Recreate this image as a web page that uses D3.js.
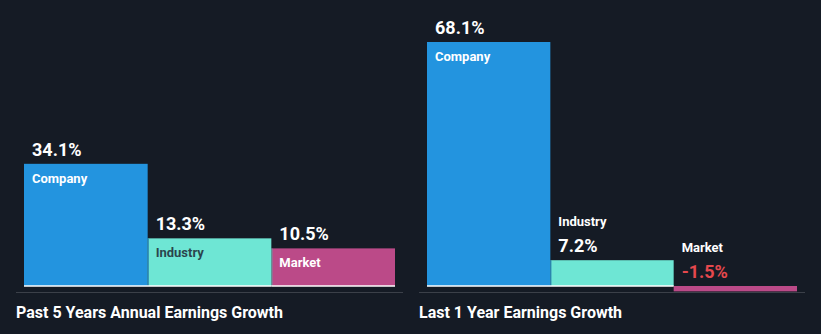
<!DOCTYPE html>
<html>
<head>
<meta charset="utf-8">
<script src="https://cdn.jsdelivr.net/npm/d3@7"></script>
<style>
  html, body { margin: 0; padding: 0; background: #151b25; }
  svg { display: block; }
  text { font-family: Roboto, "Noto Sans", sans-serif; }
</style>
</head>
<body>
<svg id="chart" width="821" height="334"></svg>
<script>
const categories = ["Company", "Industry", "Market"];
const colors = ["#2394df", "#6ee6d4", "#bb4a88"];
const strokeColors = ["#1a6fae", "#4fb3a4", "#8f3868"];
const panelTitles = ["Past 5 Years Annual Earnings Growth", "Last 1 Year Earnings Growth"];
const past5Years = [34.1, 13.3, 10.5];
const last1Year = [68.1, 7.2, -1.5];
const valueLabels5 = ["34.1%", "13.3%", "10.5%"];
const valueLabels1 = ["68.1%", "7.2%", "-1.5%"];

const svg = d3.select("#chart");
const W = 821, H = 334;
svg.append("rect").attr("width", W).attr("height", H).attr("fill", "#151b25");

const baseY = 286;
// shared vertical scale: 68.1% -> 244px
const y = d3.scaleLinear().domain([0, 68.1]).range([baseY, 42]);

const panels = [
  { values: past5Years, labels: valueLabels5, title: panelTitles[0], x0: 24, x1: 395, sepX0: 16, sepX1: 403, titleX: 16 },
  { values: last1Year, labels: valueLabels1, title: panelTitles[1], x0: 427, x1: 797, sepX0: 419, sepX1: 805, titleX: 419 }
];

panels.forEach(p => {
  const g = svg.append("g");
  const x = d3.scaleBand().domain(categories).range([p.x0, p.x1]).padding(0);
  const data = categories.map((c, i) => ({ c, v: p.values[i], label: p.labels[i], i }));

  // bars
  g.selectAll("rect.bar").data(data).enter().append("rect")
    .attr("class", "bar")
    .attr("x", d => x(d.c))
    .attr("width", x.bandwidth())
    .attr("y", d => Math.min(y(d.v), y(0)))
    .attr("height", d => Math.abs(y(d.v) - y(0)))
    .attr("fill", d => colors[d.i]);

  // thin darker edges between bars
  g.selectAll("line.edge").data(data.filter(d => d.i > 0 && d.v > 0)).enter().append("line")
    .attr("x1", d => x(d.c) + 0.5).attr("x2", d => x(d.c) + 0.5)
    .attr("y1", d => Math.max(y(d.v), y(data[d.i - 1].v))).attr("y2", y(0))
    .attr("stroke", d => strokeColors[d.i - 1]).attr("stroke-width", 1);

  // baseline (white)
  g.append("line")
    .attr("x1", p.x0).attr("x2", x("Market"))
    .attr("y1", baseY).attr("y2", baseY)
    .attr("stroke", "#ffffff").attr("stroke-width", 1.5);
  if (p.values[2] >= 0) {
    g.append("line")
      .attr("x1", x("Market")).attr("x2", p.x1)
      .attr("y1", baseY).attr("y2", baseY)
      .attr("stroke", "#ffffff").attr("stroke-width", 1.5);
  }

  // separator
  g.append("line")
    .attr("x1", p.sepX0).attr("x2", p.sepX1)
    .attr("y1", 292.5).attr("y2", 292.5)
    .attr("stroke", "#3b4049").attr("stroke-width", 1);

  // labels
  data.forEach(d => {
    const top = Math.min(y(d.v), y(0));
    const h = Math.abs(y(d.v) - y(0));
    const lx = x(d.c) + 8;
    const valColor = d.v < 0 ? "#e5484d" : "#ffffff";
    if (h > 30) {
      g.append("text").attr("x", lx).attr("y", top - 8)
        .attr("fill", valColor).attr("font-size", 18).attr("font-weight", 700)
        .text(d.label);
      g.append("text").attr("x", lx).attr("y", top + 19)
        .attr("fill", d.i === 1 ? "#1f2a36" : "#ffffff")
        .attr("font-size", 13).attr("font-weight", 700)
        .attr("opacity", d.i === 1 ? 0.85 : 1)
        .text(d.c);
    } else {
      g.append("text").attr("x", lx).attr("y", top - 8)
        .attr("fill", valColor).attr("font-size", 18).attr("font-weight", 700)
        .text(d.label);
      g.append("text").attr("x", lx).attr("y", top - 34)
        .attr("fill", "#ffffff").attr("font-size", 13).attr("font-weight", 700)
        .text(d.c);
    }
  });

  // panel title
  g.append("text").attr("x", p.titleX).attr("y", 318)
    .attr("fill", "#ffffff").attr("font-size", 16).attr("font-weight", 700)
    .text(p.title);
});
</script>
</body>
</html>
